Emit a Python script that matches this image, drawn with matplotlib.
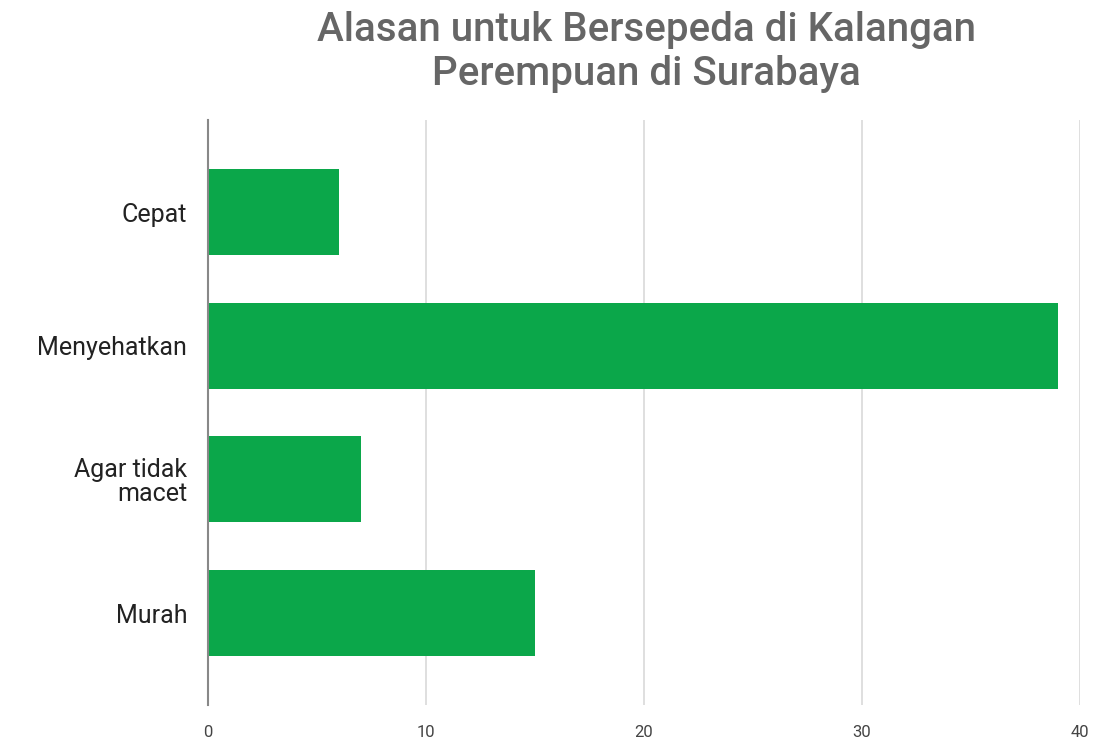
import matplotlib.pyplot as plt

# data
categories = ['Cepat', 'Menyehatkan', 'Agar tidak\nmacet', 'Murah']
values = [6, 39, 7, 15]
x_ticks = [0, 10, 20, 30, 40]

plt.rcParams['font.family'] = ['Roboto', 'DejaVu Sans']

fig = plt.figure(figsize=(11.01, 7.40), dpi=100)
ax = fig.add_axes([0.189, 0.047, 0.792, 0.791])

ypos = list(range(len(categories)))
ax.barh(ypos, values, height=0.645, color='#0ba74a', zorder=3)

ax.set_xlim(0, 40)
ax.set_ylim(3.69, -0.69)
ax.set_yticks(ypos)
ax.set_yticklabels(categories, fontsize=18, color='#222222', linespacing=1.0)
ax.set_xticks(x_ticks)
ax.set_xticklabels([str(t) for t in x_ticks], fontsize=12, color='#444444')
ax.tick_params(axis='both', length=0)
ax.tick_params(axis='y', pad=15)
ax.tick_params(axis='x', pad=14)

ax.grid(axis='x', color='#d9d9d9', linewidth=1.2, zorder=0)
for s in ['top', 'right', 'bottom']:
    ax.spines[s].set_visible(False)
ax.spines['left'].set_color('#888888')
ax.spines['left'].set_linewidth(1.5)
ax.spines['left'].set_zorder(4)

fig.text(0.587, 0.985, 'Alasan untuk Bersepeda di Kalangan\nPerempuan di Surabaya',
         ha='center', va='top', fontsize=29, color='#666666', fontweight='medium',
         linespacing=1.2)

fig.savefig('out.png', dpi=100)
